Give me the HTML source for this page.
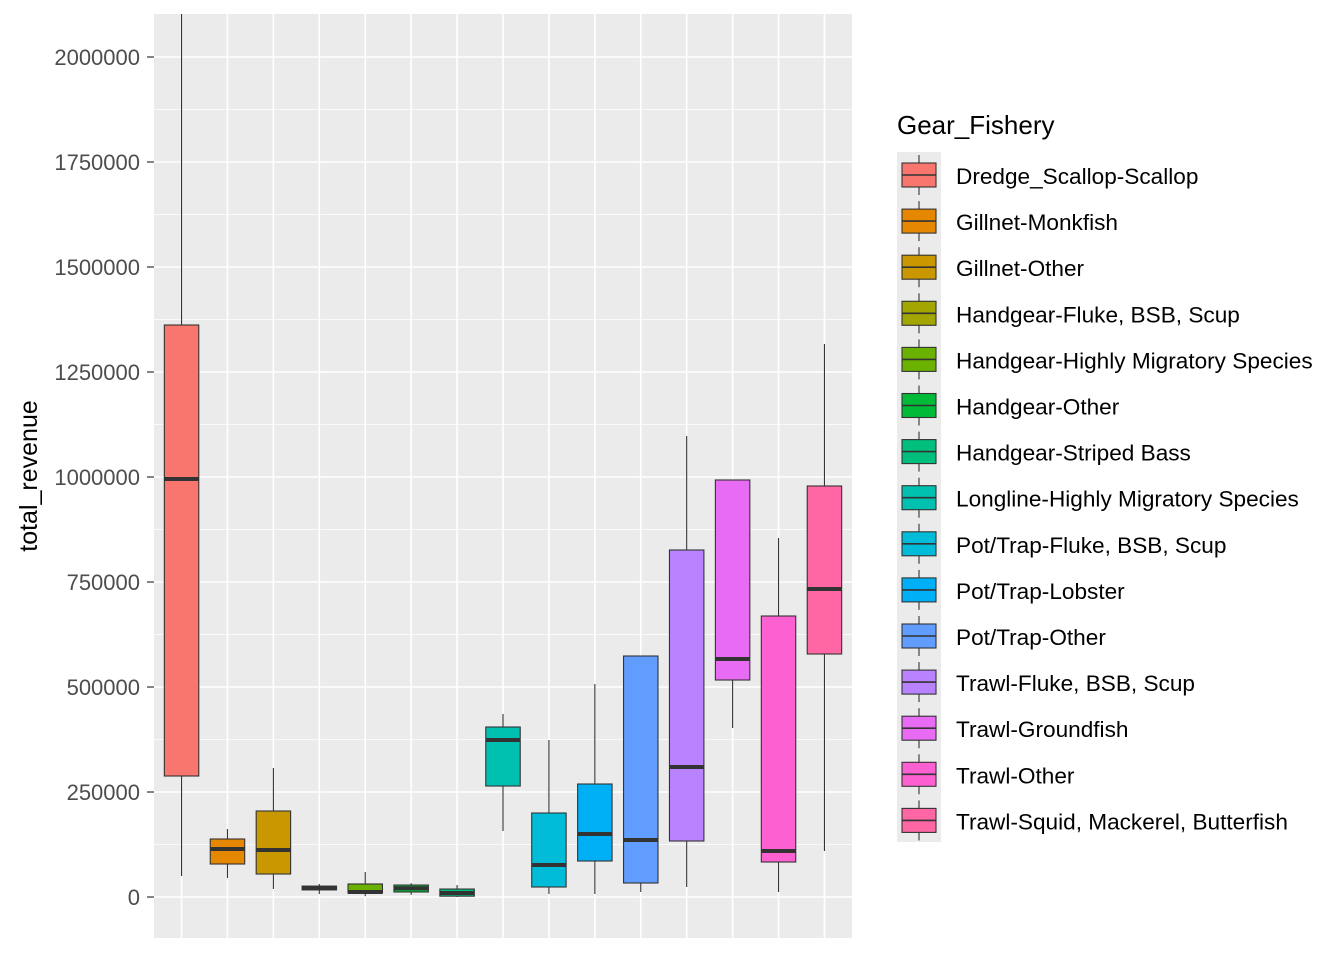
<!DOCTYPE html>
<html><head><meta charset="utf-8"><style>
body{margin:0;background:#fff;}
svg text{font-family:"Liberation Sans",Arial,sans-serif;}
</style></head><body>
<svg id="chart" width="1344" height="960" xmlns="http://www.w3.org/2000/svg"></svg>
<script>
const categories=["Dredge_Scallop-Scallop","Gillnet-Monkfish","Gillnet-Other","Handgear-Fluke, BSB, Scup","Handgear-Highly Migratory Species","Handgear-Other","Handgear-Striped Bass","Longline-Highly Migratory Species","Pot/Trap-Fluke, BSB, Scup","Pot/Trap-Lobster","Pot/Trap-Other","Trawl-Fluke, BSB, Scup","Trawl-Groundfish","Trawl-Other","Trawl-Squid, Mackerel, Butterfish"];
const whiskerLow=[50000,45238,19048,7000,2000,5000,0,157143,7143,7143,11905,23810,402381,11905,109524];
const q1=[288095,78571,54762,17000,9500,12000,2000,264286,23810,85714,33333,133333,516667,83333,578571];
const median=[995238,114286,111905,21000,12000,21000,9500,373810,76190,150000,135714,309524,566667,109524,733333];
const q3=[1361905,138095,204762,26000,31000,28500,19000,404762,200000,269048,573810,826190,992857,669048,978571];
const whiskerHigh=[2500000,161905,307143,31000,59500,33000,28500,435714,373810,507143,573810,1097619,992857,854762,1316667];
const colors=["#F8766D","#E58700","#C99800","#A3A500","#6BB100","#00BA38","#00BF7D","#00C0AF","#00BCD8","#00B0F6","#619CFF","#B983FF","#E76BF3","#FD61D1","#FF67A4"];
const yTicks=[0,250000,500000,750000,1000000,1250000,1500000,1750000,2000000];

const NS="http://www.w3.org/2000/svg";
const svg=document.getElementById('chart');
const P={l:154,r:852,t:14,b:938};
const yMin=-97600,yMax=2102380;
const y=v=>P.b-(v-yMin)/(yMax-yMin)*(P.b-P.t);
const step=(P.r-P.l)/(categories.length-1+1.2);
const x=i=>P.l+step*(0.6+i);
function el(tag,attrs,parent){const e=document.createElementNS(NS,tag);for(const k in attrs)e.setAttribute(k,attrs[k]);(parent||svg).appendChild(e);return e;}

const defs=el('defs',{});
const cp=el('clipPath',{id:'clip'},defs);
el('rect',{x:P.l,y:P.t,width:P.r-P.l,height:P.b-P.t},cp);

const panel=el('rect',{x:P.l,y:P.t,width:P.r-P.l,height:P.b-P.t,fill:'#EBEBEB'});



const grid=el('g',{});


for(let i=0;i<yTicks.length;i++){
  const m=yTicks[i]+125000;
  if(y(m)>P.t) el('line',{x1:P.l,x2:P.r,y1:y(m),y2:y(m),stroke:'#fff','stroke-width':0.8},grid);
  if(i==0){const mm=yTicks[0]-125000;if(y(mm)<P.b)el('line',{x1:P.l,x2:P.r,y1:y(mm),y2:y(mm),stroke:'#fff','stroke-width':0.8},grid);}
}
yTicks.forEach(t=>el('line',{x1:P.l,x2:P.r,y1:y(t),y2:y(t),stroke:'#fff','stroke-width':1.6},grid));
categories.forEach((c,i)=>el('line',{x1:x(i),x2:x(i),y1:P.t,y2:P.b,stroke:'#fff','stroke-width':1.6},grid));

const ax=el('g',{});


yTicks.forEach(t=>{
  el('line',{x1:147,x2:P.l,y1:y(t),y2:y(t),stroke:'#333','stroke-width':1.2},ax);
  const tx=el('text',{x:140,y:y(t)+8,'text-anchor':'end','font-size':22,fill:'#4D4D4D'},ax);
  tx.textContent=t;
});
const yt=el('text',{x:0,y:0,transform:'translate(37,476) rotate(-90)','text-anchor':'middle','font-size':25,fill:'#000'});
yt.textContent='total_revenue';



const boxes=el('g',{'clip-path':'url(#clip)'});
const bw=step*0.75;
categories.forEach((c,i)=>{
  const g=el('g',{},boxes);
  
  
  const cx=x(i);
  el('line',{x1:cx,x2:cx,y1:y(whiskerHigh[i]),y2:y(q3[i]),stroke:'#333','stroke-width':1.1},g);
  el('line',{x1:cx,x2:cx,y1:y(q1[i]),y2:y(whiskerLow[i]),stroke:'#333','stroke-width':1.1},g);
  el('rect',{x:cx-bw/2,y:y(q3[i]),width:bw,height:Math.max(0.5,y(q1[i])-y(q3[i])),fill:colors[i],stroke:'#333','stroke-width':1.1},g);
  el('line',{x1:cx-bw/2,x2:cx+bw/2,y1:y(median[i]),y2:y(median[i]),stroke:'#333','stroke-width':4},g);
});

const lg=el('g',{});


const lt=el('text',{x:897,y:134,'font-size':26,fill:'#000'},lg);
lt.textContent='Gear_Fishery';
el('rect',{x:897,y:152,width:44,height:690,fill:'#EBEBEB'},lg);
categories.forEach((c,i)=>{
  const cy=175+i*46.1;
  const g=el('g',{},lg);
  
  
  el('line',{x1:919,x2:919,y1:cy-20,y2:cy+20,stroke:'#333','stroke-width':1.1},g);
  el('rect',{x:902,y:cy-12,width:34,height:24,fill:colors[i],stroke:'#333','stroke-width':1.1},g);
  el('line',{x1:902,x2:936,y1:cy,y2:cy,stroke:'#333','stroke-width':1.6},g);
  const t=el('text',{x:956,y:cy+9,'font-size':22.6,fill:'#000'},g);
  t.textContent=c;
});
</script>
</body></html>
